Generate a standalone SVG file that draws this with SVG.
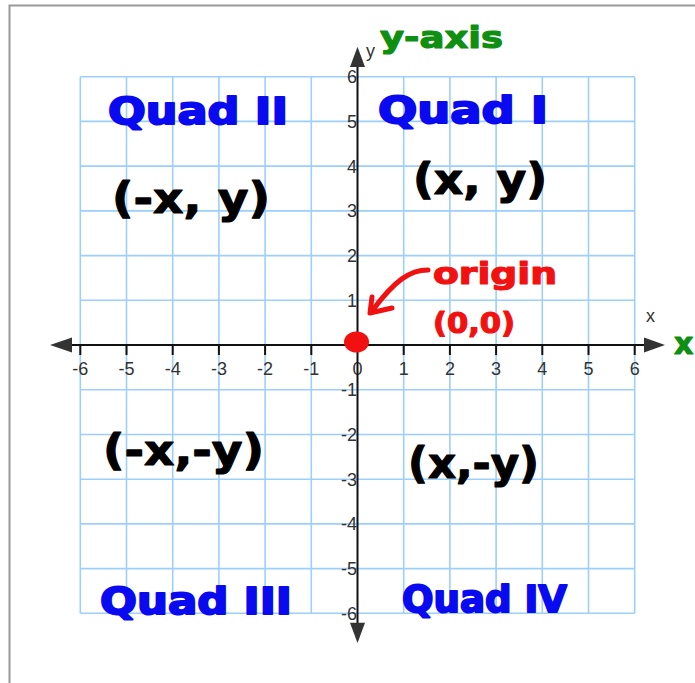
<svg xmlns="http://www.w3.org/2000/svg" width="695" height="683" viewBox="0 0 695 683">
<style>
.grid line{stroke:#9ccffa;stroke-width:1.6}
.axis{stroke:#111;stroke-width:2}
.tick{stroke:#111;stroke-width:2}
.head{fill:#333}
.num{font-family:"Liberation Sans",Arial,sans-serif;font-size:18px;fill:#333}
.xl{text-anchor:middle}
.yl{text-anchor:end}
.hand{font-family:"DejaVu Sans","Liberation Sans",sans-serif;font-weight:bold;stroke-linejoin:round;stroke-linecap:round}
.blue{fill:#0a0af0;stroke:#0a0af0;stroke-width:2;font-size:38px}
.black{fill:#000;stroke:#000;stroke-width:1.2;font-size:42px}
.red{fill:#f21111;stroke:#f21111;stroke-width:1.2}
.green{fill:#0f8f12;stroke:#0f8f12;stroke-width:1.2;font-size:30px}
</style>
<rect x="9.5" y="5.5" width="700" height="700" fill="#fff" stroke="#999" stroke-width="2"/>
<g id="grid" class="grid">
<line x1="80.3" y1="76.7" x2="80.3" y2="613.3"/><line x1="126.5" y1="76.7" x2="126.5" y2="613.3"/><line x1="172.7" y1="76.7" x2="172.7" y2="613.3"/><line x1="218.9" y1="76.7" x2="218.9" y2="613.3"/><line x1="265.1" y1="76.7" x2="265.1" y2="613.3"/><line x1="311.3" y1="76.7" x2="311.3" y2="613.3"/><line x1="403.7" y1="76.7" x2="403.7" y2="613.3"/><line x1="449.9" y1="76.7" x2="449.9" y2="613.3"/><line x1="496.1" y1="76.7" x2="496.1" y2="613.3"/><line x1="542.3" y1="76.7" x2="542.3" y2="613.3"/><line x1="588.5" y1="76.7" x2="588.5" y2="613.3"/><line x1="634.7" y1="76.7" x2="634.7" y2="613.3"/>
<line x1="80.3" y1="76.7" x2="634.7" y2="76.7"/><line x1="80.3" y1="121.4" x2="634.7" y2="121.4"/><line x1="80.3" y1="166.1" x2="634.7" y2="166.1"/><line x1="80.3" y1="210.9" x2="634.7" y2="210.9"/><line x1="80.3" y1="255.6" x2="634.7" y2="255.6"/><line x1="80.3" y1="300.3" x2="634.7" y2="300.3"/><line x1="80.3" y1="389.7" x2="634.7" y2="389.7"/><line x1="80.3" y1="434.5" x2="634.7" y2="434.5"/><line x1="80.3" y1="479.2" x2="634.7" y2="479.2"/><line x1="80.3" y1="523.9" x2="634.7" y2="523.9"/><line x1="80.3" y1="568.6" x2="634.7" y2="568.6"/><line x1="80.3" y1="613.3" x2="634.7" y2="613.3"/>
</g>
<g id="x-axis">
<line class="axis" x1="70" y1="345" x2="646" y2="345"/>
<polygon class="head" points="50,345 72,337.5 72,352.5"/>
<polygon class="head" points="665,345 644,337.5 644,352.5"/>
<g class="tick">
<line x1="80.3" y1="345" x2="80.3" y2="355"/><line x1="126.5" y1="345" x2="126.5" y2="355"/><line x1="172.7" y1="345" x2="172.7" y2="355"/><line x1="218.9" y1="345" x2="218.9" y2="355"/><line x1="265.1" y1="345" x2="265.1" y2="355"/><line x1="311.3" y1="345" x2="311.3" y2="355"/><line x1="403.7" y1="345" x2="403.7" y2="355"/><line x1="449.9" y1="345" x2="449.9" y2="355"/><line x1="496.1" y1="345" x2="496.1" y2="355"/><line x1="542.3" y1="345" x2="542.3" y2="355"/><line x1="588.5" y1="345" x2="588.5" y2="355"/><line x1="634.7" y1="345" x2="634.7" y2="355"/>
</g>
<g class="num xl">
<text x="80.3" y="375">-6</text><text x="126.5" y="375">-5</text><text x="172.7" y="375">-4</text><text x="218.9" y="375">-3</text><text x="265.1" y="375">-2</text><text x="311.3" y="375">-1</text><text x="357.5" y="375">0</text><text x="403.7" y="375">1</text><text x="449.9" y="375">2</text><text x="496.1" y="375">3</text><text x="542.3" y="375">4</text><text x="588.5" y="375">5</text><text x="634.7" y="375">6</text>
</g>
<text class="num" x="646" y="322">x</text>
</g>
<g id="y-axis">
<line class="axis" x1="357.5" y1="64" x2="357.5" y2="625"/>
<polygon class="head" points="357.5,46.7 350,67 365,67"/>
<polygon class="head" points="357.5,643 350,622.7 365,622.7"/>
<g class="num yl">
<text x="357" y="83.2">6</text><text x="357" y="127.9">5</text><text x="357" y="172.6">4</text><text x="357" y="217.4">3</text><text x="357" y="262.1">2</text><text x="357" y="306.8">1</text><text x="357" y="396.2">-1</text><text x="357" y="441">-2</text><text x="357" y="485.7">-3</text><text x="357" y="530.4">-4</text><text x="357" y="575.1">-5</text><text x="357" y="619.8">-6</text>
</g>
<text class="num" x="366" y="57">y</text>
</g>
<g id="quad-1">
<text class="hand blue" x="378" y="123" textLength="170" lengthAdjust="spacingAndGlyphs">Quad I</text>
<text class="hand black" x="413" y="194" textLength="134" lengthAdjust="spacingAndGlyphs">(x, y)</text>
</g>
<g id="quad-2">
<text class="hand blue" x="108" y="124" textLength="180" lengthAdjust="spacingAndGlyphs">Quad II</text>
<text class="hand black" x="112" y="213" textLength="158" lengthAdjust="spacingAndGlyphs">(-x, y)</text>
</g>
<g id="quad-3">
<text class="hand black" x="103" y="465" textLength="161" lengthAdjust="spacingAndGlyphs">(-x,-y)</text>
<text class="hand blue" x="100" y="614" textLength="192" lengthAdjust="spacingAndGlyphs">Quad III</text>
</g>
<g id="quad-4">
<text class="hand black" x="408" y="478" textLength="131" lengthAdjust="spacingAndGlyphs">(x,-y)</text>
<text class="hand blue" x="402" y="612" textLength="165" lengthAdjust="spacingAndGlyphs">Quad IV</text>
</g>
<g id="origin">
<ellipse cx="356.5" cy="342" rx="12.5" ry="10.5" fill="#f21111"/>
<text class="hand red" x="433" y="284" font-size="30" textLength="124" lengthAdjust="spacingAndGlyphs">origin</text>
<text class="hand red" x="433" y="333" font-size="28" textLength="82" lengthAdjust="spacingAndGlyphs">(0,0)</text>
</g>
<g id="axis-names">
<text class="hand green" x="380" y="48" textLength="123" lengthAdjust="spacingAndGlyphs">y-axis</text>
<text class="hand green" x="674" y="354" font-size="22">x</text>
</g>
<g id="connectors" fill="none" stroke="#f21111" stroke-width="5" stroke-linecap="round" stroke-linejoin="round">
<path d="M428,270 C410,270 395,280 372,311"/>
<path d="M372,297 L370,313 L392,308"/>
</g>
</svg>
